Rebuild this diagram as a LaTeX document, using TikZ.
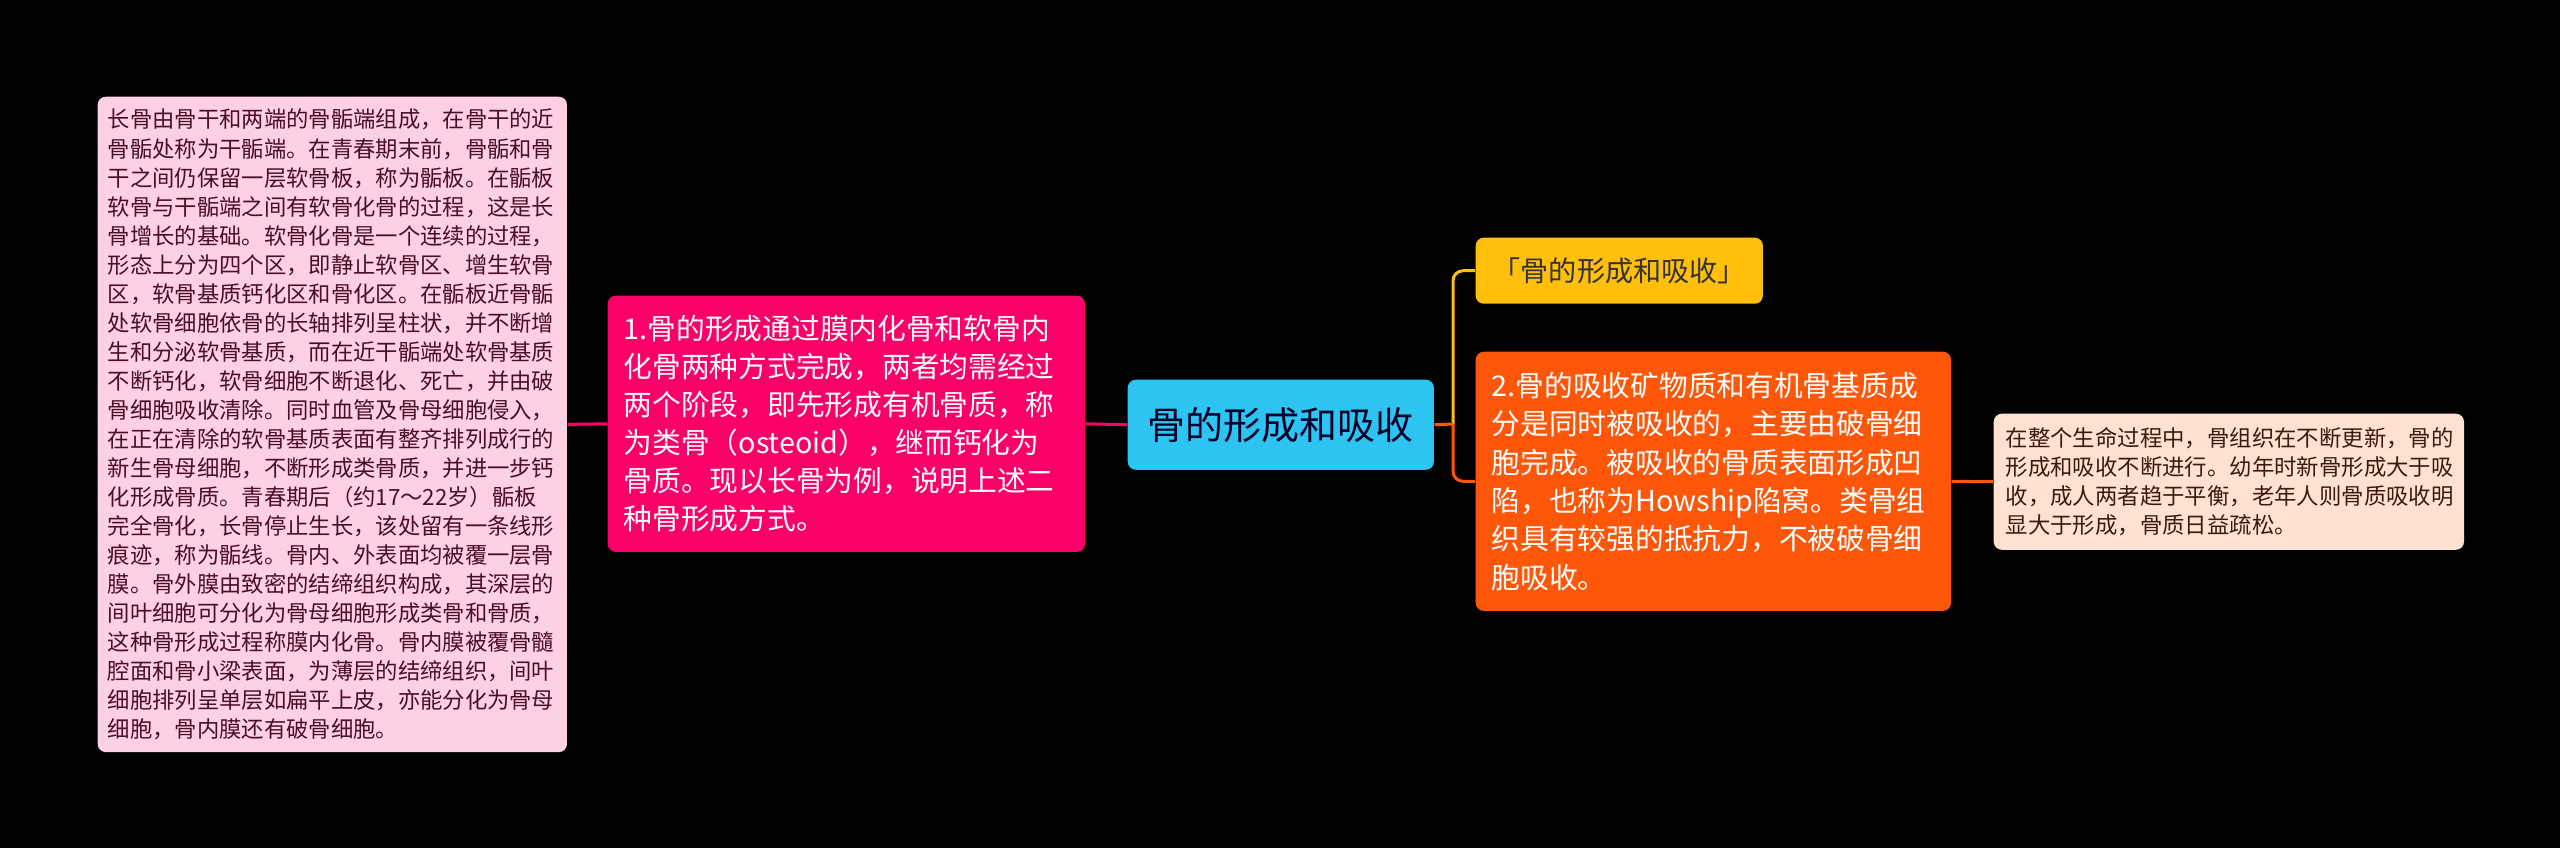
\documentclass[tikz,border=0pt]{standalone}
\usepackage{fontspec}
\setmainfont{Noto Sans CJK SC}
\usepackage{xcolor}
\usetikzlibrary{positioning}
\definecolor{rootblue}{HTML}{2EC4F2}
\definecolor{rosenode}{HTML}{FA0068}
\definecolor{roseleaf}{HTML}{FDD0E3}
\definecolor{rosetext}{HTML}{4A0E28}
\definecolor{goldnode}{HTML}{FFBF0A}
\definecolor{ambernode}{HTML}{FE570A}
\definecolor{peachleaf}{HTML}{FDE2D2}
\definecolor{peachtext}{HTML}{3E1A0C}

\begin{document}
\begin{tikzpicture}[x=0.01cm,y=-0.01cm,
  box/.style={rounded corners=0.08cm,anchor=north west,inner ysep=0pt,align=left},
  link/.style={line width=0.03cm}]
\fill[black] (0,0) rectangle (2560,848);
% root
\node[box,align=center,fill=rootblue,text=black!85!blue,minimum width=3.06cm,minimum height=0.90cm,
  font=\fontsize{10.8pt}{13pt}\selectfont] (root) at (1127,379) {骨的形成和吸收};
% left branch
\node[box,fill=rosenode,text=white,minimum width=4.77cm,minimum height=2.56cm,inner xsep=0.16cm,text width=4.45cm,
  font=\fontsize{8.17pt}{10.8pt}\selectfont] (forming) at (607,295)
  {1.骨的形成通过膜内化骨和软骨内\\化骨两种方式完成，两者均需经过\\两个阶段，即先形成有机骨质，称\\为类骨（osteoid），继而钙化为\\骨质。现以长骨为例，说明上述二\\种骨形成方式。};
\node[box,fill=roseleaf,text=rosetext,minimum width=4.69cm,minimum height=6.55cm,inner xsep=0.10cm,text width=4.49cm,
  font=\fontsize{6.35pt}{8.25pt}\selectfont] (formdetail) at (97,96)
  {长骨由骨干和两端的骨骺端组成，在骨干的近\\骨骺处称为干骺端。在青春期末前，骨骺和骨\\干之间仍保留一层软骨板，称为骺板。在骺板\\软骨与干骺端之间有软骨化骨的过程，这是长\\骨增长的基础。软骨化骨是一个连续的过程，\\形态上分为四个区，即静止软骨区、增生软骨\\区，软骨基质钙化区和骨化区。在骺板近骨骺\\处软骨细胞依骨的长轴排列呈柱状，并不断增\\生和分泌软骨基质，而在近干骺端处软骨基质\\不断钙化，软骨细胞不断退化、死亡，并由破\\骨细胞吸收清除。同时血管及骨母细胞侵入，\\在正在清除的软骨基质表面有整齐排列成行的\\新生骨母细胞，不断形成类骨质，并进一步钙\\化形成骨质。青春期后（约17～22岁）骺板\\完全骨化，长骨停止生长，该处留有一条线形\\痕迹，称为骺线。骨内、外表面均被覆一层骨\\膜。骨外膜由致密的结缔组织构成，其深层的\\间叶细胞可分化为骨母细胞形成类骨和骨质，\\这种骨形成过程称膜内化骨。骨内膜被覆骨髓\\腔面和骨小梁表面，为薄层的结缔组织，间叶\\细胞排列呈单层如扁平上皮，亦能分化为骨母\\细胞，骨内膜还有破骨细胞。};
% right branch
\node[box,align=center,fill=goldnode,text=black!80,minimum width=2.87cm,minimum height=0.66cm,
  font=\fontsize{8pt}{10pt}\selectfont] (title) at (1475,237) {「骨的形成和吸收」};
\node[box,fill=ambernode,text=white,minimum width=4.75cm,minimum height=2.59cm,inner xsep=0.16cm,text width=4.43cm,
  font=\fontsize{8.17pt}{10.9pt}\selectfont] (resorb) at (1475,351)
  {2.骨的吸收矿物质和有机骨基质成\\分是同时被吸收的，主要由破骨细\\胞完成。被吸收的骨质表面形成凹\\陷，也称为Howship陷窝。类骨组\\织具有较强的抵抗力，不被破骨细\\胞吸收。};
\node[box,fill=peachleaf,text=peachtext,minimum width=4.70cm,minimum height=1.36cm,inner xsep=0.12cm,text width=4.46cm,
  font=\fontsize{6.37pt}{8.17pt}\selectfont] (resdetail) at (1993,413)
  {在整个生命过程中，骨组织在不断更新，骨的\\形成和吸收不断进行。幼年时新骨形成大于吸\\收，成人两者趋于平衡，老年人则骨质吸收明\\显大于形成，骨质日益疏松。};
% connectors
\coordinate (fork) at (1453,424);
\draw[link,rosenode] (root.west) -- (forming.east);
\draw[link,rosenode] (forming.west) -- (formdetail.east);
\draw[link,goldnode,rounded corners=0.10cm] (fork) |- (title.west);
\draw[link,ambernode,rounded corners=0.10cm] (fork) |- (resorb.west);
\draw[link,ambernode] (root.east) -- (fork);
\draw[link,ambernode] (resorb.east) -- (resdetail.west);
\end{tikzpicture}
\end{document}
